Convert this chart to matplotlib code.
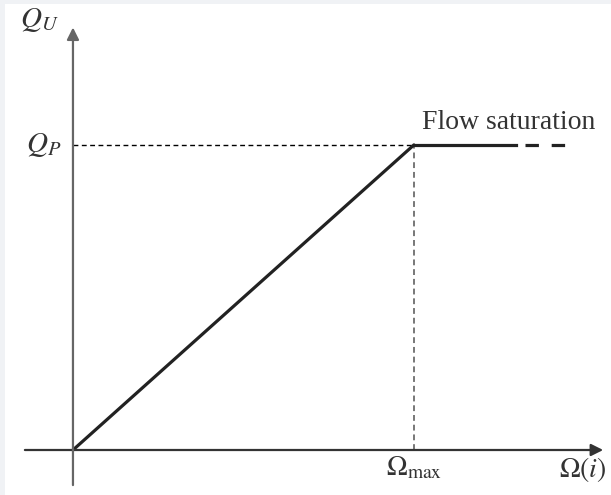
import numpy as np
import matplotlib.pyplot as plt
from matplotlib.patches import Rectangle

plt.rcParams['font.family'] = ['Liberation Serif', 'DejaVu Serif']
plt.rcParams['mathtext.fontset'] = 'stix'

# characteristic: linear rise up to Omega_max, then flat at Q_P
omega_max = 1.0
q_p = 1.0
omega_rise = [0.0, omega_max]
q_rise = [0.0, q_p]
omega_flat = [omega_max, 1.30]
omega_flat_dash = [1.325, 1.457]

fig = plt.figure(figsize=(6.11, 4.95), dpi=100)
fig.patch.set_facecolor('#f0f2f5')
ax = fig.add_axes([0, 0, 1, 1])
ax.set_xlim(-0.214, 1.578)
ax.set_ylim(-0.1475, 1.475)
ax.axis('off')
ax.add_patch(Rectangle((0.008, 0), 1, 0.992, transform=ax.transAxes,
                       facecolor='white', edgecolor='none', zorder=0))

# axes with arrows
ax.annotate('', xy=(1.555, 0), xytext=(-0.141, 0),
            arrowprops=dict(arrowstyle='-|>', color='#333333', lw=1.6,
                            mutation_scale=18, shrinkA=0, shrinkB=0))
ax.annotate('', xy=(0, 1.385), xytext=(0, -0.115),
            arrowprops=dict(arrowstyle='-|>', color='#666666', lw=1.6,
                            mutation_scale=18, shrinkA=0, shrinkB=0))

# guide lines
ax.plot([0, omega_max], [q_p, q_p], color='black', lw=1.0, ls=(0, (3.5, 2.5)))
ax.plot([omega_max, omega_max], [0, q_p], color='#777777', lw=1.4,
        ls=(0, (3, 2)))

# characteristic curve
ax.plot(omega_rise, q_rise, color='#222222', lw=2.3, solid_capstyle='round')
ax.plot(omega_flat, [q_p, q_p], color='#222222', lw=2.3)
ax.plot(omega_flat_dash, [q_p, q_p], color='#222222', lw=2.3,
        ls=(0, (4.2, 4.0)))

# labels
ax.text(-0.1, 1.41, r'$Q_U$', fontsize=21, ha='center', va='center',
        color='#333333')
ax.text(-0.085, q_p, r'$Q_P$', fontsize=21, ha='center', va='center',
        color='#333333')
ax.text(1.025, 1.075, 'Flow saturation', fontsize=20, ha='left',
        va='center', color='#333333')
ax.text(omega_max, -0.06, r'$\Omega_{\mathrm{max}}$', fontsize=20,
        ha='center', va='center', color='#333333')
ax.text(1.496, -0.065, r'$\Omega(i)$', fontsize=20, ha='center',
        va='center', color='#333333')

fig.savefig('out.png', dpi=100, facecolor=fig.get_facecolor())
